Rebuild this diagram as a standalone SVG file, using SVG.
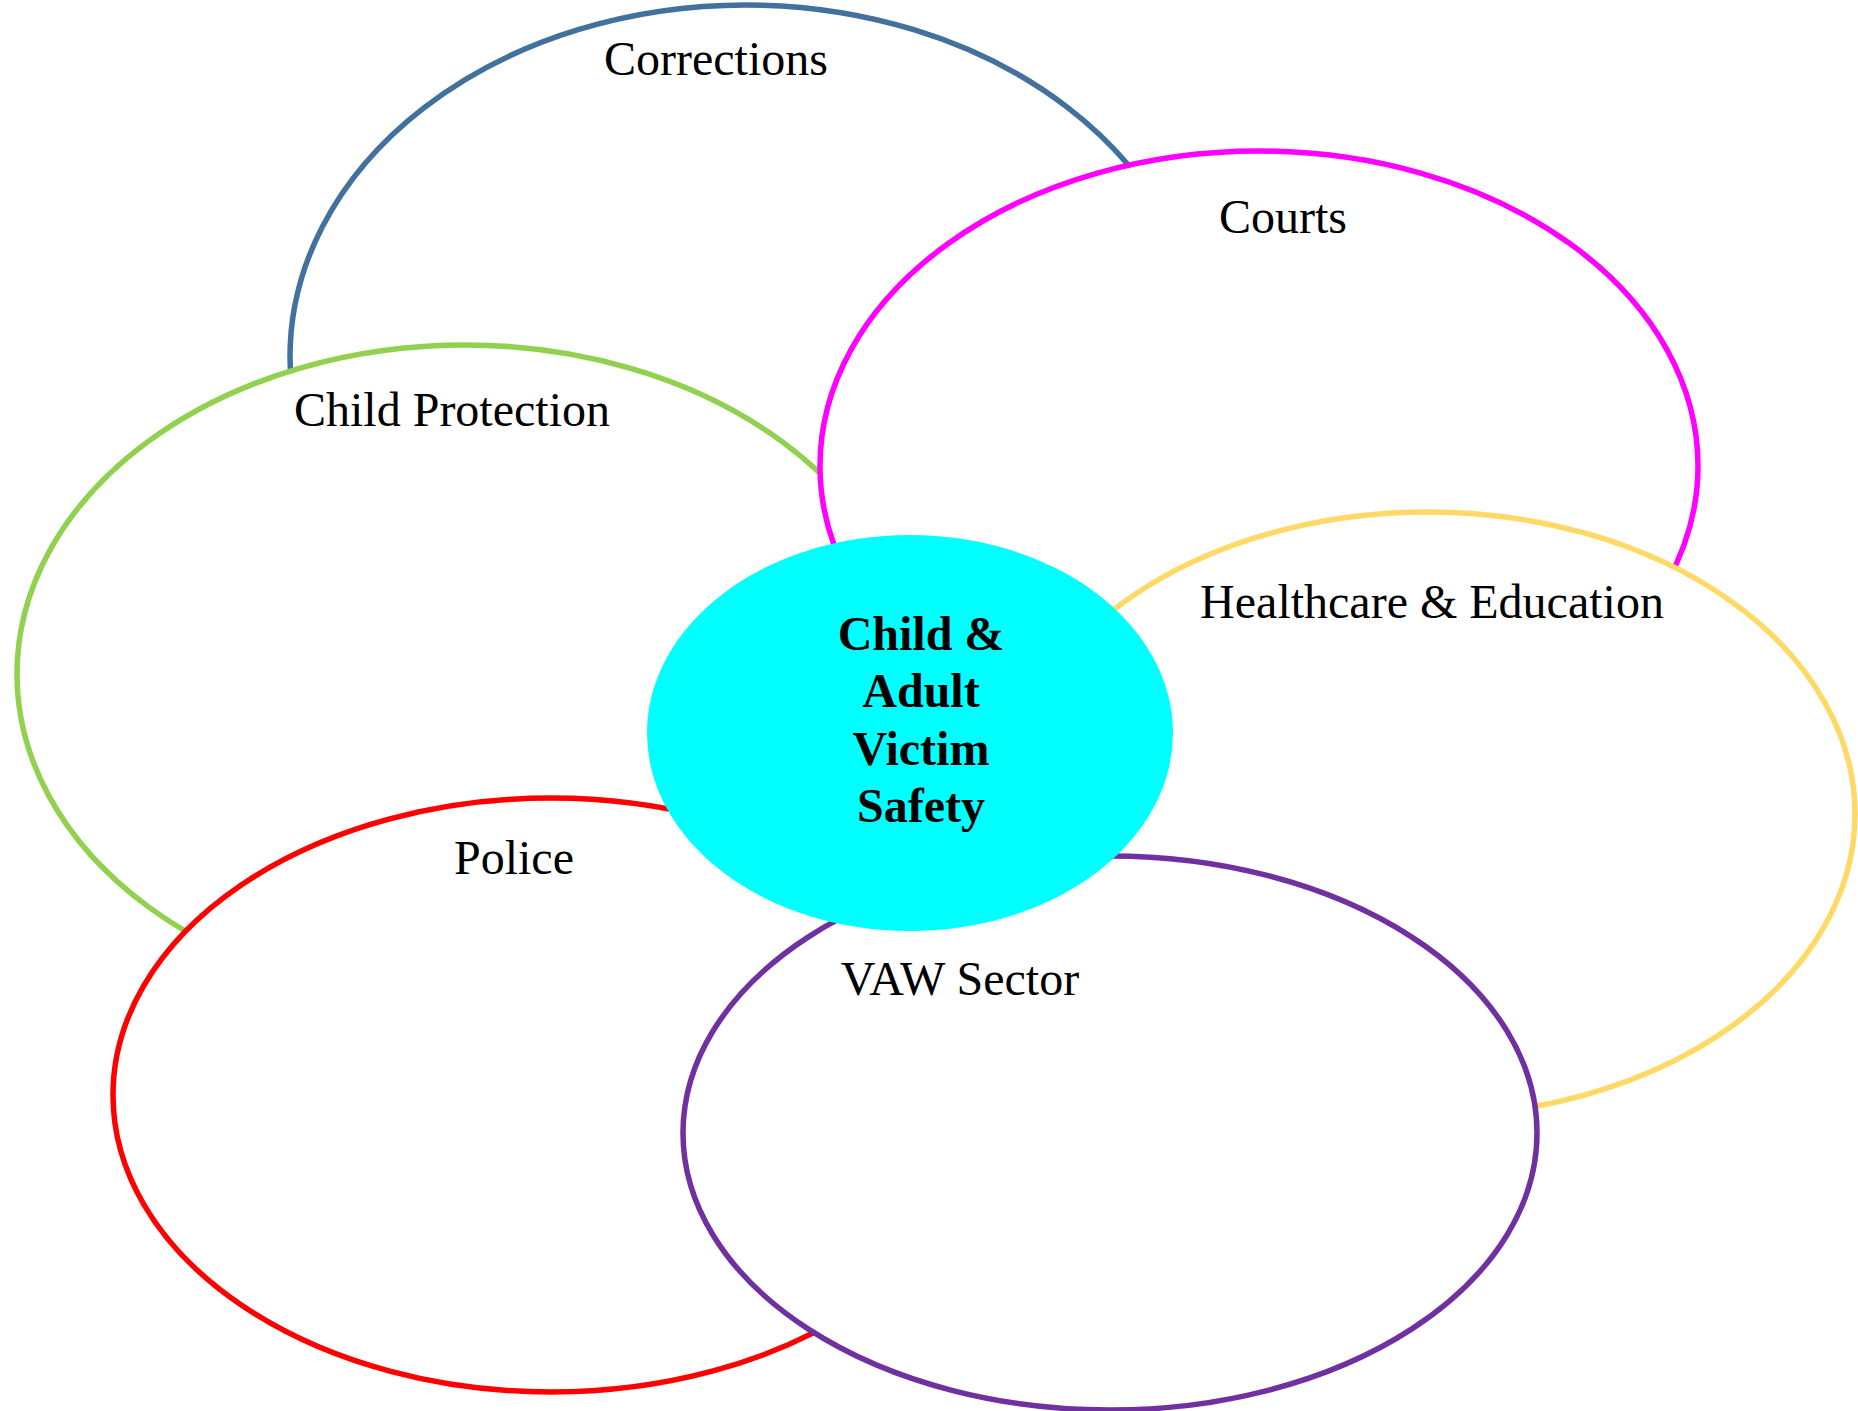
<svg xmlns="http://www.w3.org/2000/svg" width="1858" height="1411" viewBox="0 0 1858 1411">
  <style>
    .ring { fill: #ffffff; stroke-width: 5.5; }
    .label { font-family: "Liberation Serif", "Times New Roman", serif; font-size: 48px; fill: #000000; text-anchor: middle; }
    .core { font-family: "Liberation Serif", "Times New Roman", serif; font-size: 48px; font-weight: bold; fill: #000000; text-anchor: middle; }
  </style>
  <rect width="1858" height="1411" fill="#ffffff"/>
  <!-- sector ellipses, back to front -->
  <g id="corrections">
    <ellipse class="ring" cx="746" cy="357" rx="456" ry="352" stroke="#41719C"/>
    <text class="label" x="716" y="75">Corrections</text>
  </g>
  <g id="child-protection">
    <ellipse class="ring" cx="465" cy="674" rx="448" ry="329" stroke="#92D050"/>
    <text class="label" x="452" y="426">Child Protection</text>
  </g>
  <g id="courts">
    <ellipse class="ring" cx="1259" cy="466" rx="439" ry="315" stroke="#FF00FF"/>
    <text class="label" x="1283" y="233">Courts</text>
  </g>
  <g id="healthcare-education">
    <ellipse class="ring" cx="1428" cy="814" rx="427" ry="302" stroke="#FFD966"/>
    <text class="label" x="1432" y="618">Healthcare &amp; Education</text>
  </g>
  <g id="police">
    <ellipse class="ring" cx="551" cy="1095" rx="438" ry="297" stroke="#FF0000"/>
    <text class="label" x="514" y="874">Police</text>
  </g>
  <g id="vaw-sector">
    <ellipse class="ring" cx="1110" cy="1133" rx="427" ry="277" stroke="#7030A0"/>
    <text class="label" x="960" y="995">VAW Sector</text>
  </g>
  <!-- shared centre -->
  <g id="victim-safety">
    <ellipse cx="910" cy="733" rx="263" ry="198" fill="#00FFFF"/>
    <text class="core" x="921" y="650">Child &amp;</text>
    <text class="core" x="921" y="707">Adult</text>
    <text class="core" x="921" y="765">Victim</text>
    <text class="core" x="921" y="822">Safety</text>
  </g>
  <g id="connectors"/>
</svg>
